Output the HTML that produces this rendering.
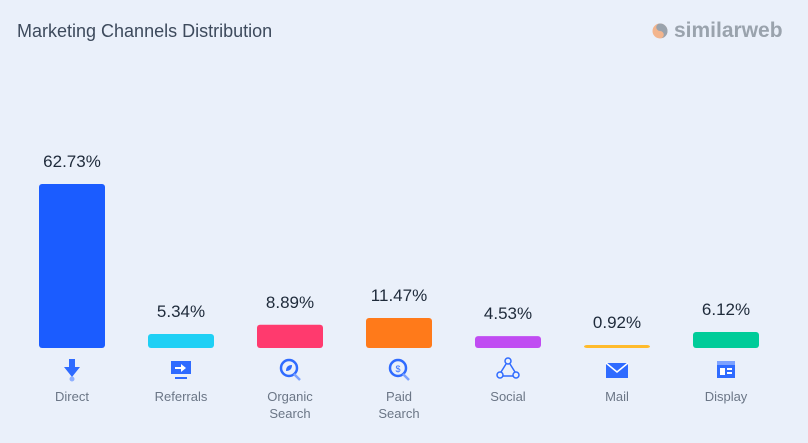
<!DOCTYPE html>
<html><head><meta charset="utf-8">
<style>
body{margin:0;width:808px;height:443px;background:#eaf0fa;font-family:"Liberation Sans",sans-serif;overflow:hidden;position:relative}
.title{position:absolute;left:17px;top:21px;font-size:18px;color:#3d4a5c}
.logo{position:absolute;left:652px;top:19px;font-size:21px;font-weight:bold;color:#9aa3ad;display:flex;align-items:center;gap:6px}
</style></head><body>
<div class="title">Marketing Channels Distribution</div>
<div class="logo"><svg width="16" height="16" viewBox="0 0 16 16"><circle cx="8" cy="8" r="7.5" fill="#f3b58d"/><path d="M8 0.5 A7.5 7.5 0 0 1 8 15.5 A3.75 3.75 0 0 0 8 8 A3.75 3.75 0 0 1 8 0.5Z" fill="#9aa3ad"/></svg>similarweb</div>
<svg id="chart" width="808" height="443" style="position:absolute;left:0;top:0"></svg>
<script>
const categories=["Direct","Referrals","Organic|Search","Paid|Search","Social","Mail","Display"];
const values=[62.73,5.34,8.89,11.47,4.53,0.92,6.12];
const labels=["62.73%","5.34%","8.89%","11.47%","4.53%","0.92%","6.12%"];
const colors=["#1b5cff","#1fd0f5","#ff3a6e","#ff7a1a","#c04cf2","#ffbb2c","#00cc99"];
const NS="http://www.w3.org/2000/svg";
const svg=document.getElementById('chart');
const base=348, scale=164/62.73;
const xPos=i=>39+i*109;
const yPos=v=>base-Math.max(v*scale,3);
function mk(t,a){const e=document.createElementNS(NS,t);for(const k in a)e.setAttribute(k,a[k]);svg.appendChild(e);return e;}
const icons=[
'<path d="M-3 -11h6v8h5l-8 10l-8-10h5z" fill="#2f6bff"/><circle cx="0" cy="9" r="2.5" fill="#8fb0ff"/>',
'<rect x="-10" y="-9" width="20" height="13" fill="#2f6bff"/><path d="M-6 -3h6v-3l5 4l-5 4v-3h-6z" fill="#fff"/><rect x="-6" y="7" width="12" height="2" fill="#2f6bff"/>',
'<circle cx="-1" cy="-2" r="8" fill="none" stroke="#2f6bff" stroke-width="2.5"/><path d="M4 4l6 6" stroke="#7da2ff" stroke-width="2.5"/><path d="M-4 1q0-6 6-6q0 6-6 6z" fill="#2f6bff"/>',
'<circle cx="-1" cy="-2" r="8" fill="none" stroke="#2f6bff" stroke-width="2.5"/><path d="M4 4l6 6" stroke="#7da2ff" stroke-width="2.5"/><text x="-1" y="2" font-size="9" text-anchor="middle" fill="#2f6bff">$</text>',
'<circle cx="0" cy="-9" r="3" fill="none" stroke="#2f6bff" stroke-width="1.5"/><circle cx="-8" cy="5" r="3" fill="none" stroke="#2f6bff" stroke-width="1.5"/><circle cx="8" cy="5" r="3" fill="none" stroke="#2f6bff" stroke-width="1.5"/><path d="M-2-6l-5 8M2-6l5 8M-5 6h10" stroke="#2f6bff" stroke-width="1.5" fill="none"/>',
'<rect x="-11" y="-7" width="22" height="15" fill="#2f6bff"/><path d="M-11-7l11 9l11-9" stroke="#fff" stroke-width="1.5" fill="none"/>',
'<rect x="-9" y="-9" width="18" height="17" fill="#2f6bff"/><rect x="-9" y="-9" width="18" height="4" fill="#7da2ff"/><rect x="-6" y="-2" width="5" height="7" fill="#fff"/><rect x="1" y="-2" width="5" height="2" fill="#fff"/><rect x="1" y="2" width="5" height="2" fill="#fff"/>'
];
values.forEach((v,i)=>{
  const x=xPos(i), y=yPos(v);
  const r=mk('rect',{x:x,y:y,width:66,height:base-y,rx:3,fill:colors[i]});
  
  
  const t=mk('text',{x:x+33,y:y-17,'text-anchor':'middle','font-size':17,fill:'#1e2a3a','font-family':'Liberation Sans'});
  t.textContent=labels[i];
  
  
  const g=mk('g',{transform:`translate(${x+33},370)`});
  g.innerHTML=icons[i];
  
  
  categories[i].split('|').forEach((line,j)=>{
    const c=mk('text',{x:x+33,y:401+j*17,'text-anchor':'middle','font-size':13,fill:'#6b7686','font-family':'Liberation Sans'});
    c.textContent=line;
    
    
  });
});
</script>
</body></html>
